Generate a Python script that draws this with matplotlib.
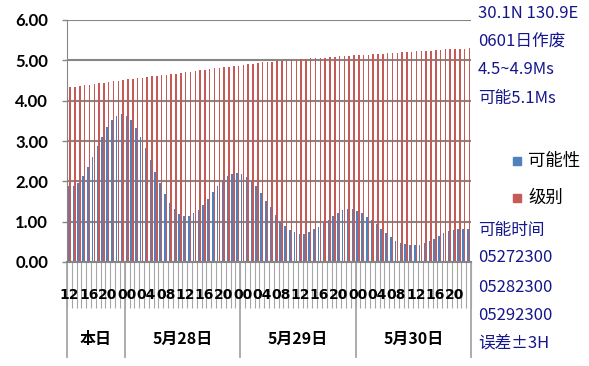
import numpy as np
import matplotlib.pyplot as plt
import matplotlib.transforms as mtransforms

# 可能性 (blue) and 级别 (red), one value per hour, 84 hours
possibility = [1.89, 1.89, 1.97, 2.13, 2.36, 2.60, 2.88, 3.11, 3.34, 3.51,
               3.62, 3.66, 3.62, 3.51, 3.32, 3.11, 2.82, 2.53, 2.24, 1.95,
               1.69, 1.46, 1.31, 1.19, 1.14, 1.14, 1.21, 1.29, 1.41, 1.57,
               1.73, 1.89, 2.03, 2.13, 2.18, 2.20, 2.17, 2.10, 2.02, 1.89,
               1.70, 1.52, 1.36, 1.17, 1.02, 0.89, 0.79, 0.74, 0.69, 0.69,
               0.74, 0.81, 0.86, 0.96, 1.04, 1.14, 1.22, 1.29, 1.31, 1.31,
               1.26, 1.21, 1.12, 1.04, 0.94, 0.81, 0.73, 0.63, 0.53, 0.48,
               0.45, 0.41, 0.41, 0.43, 0.48, 0.53, 0.58, 0.65, 0.71, 0.76,
               0.79, 0.81, 0.82, 0.82]
magnitude = [4.34, 4.35, 4.37, 4.38, 4.40, 4.41, 4.43, 4.44, 4.46, 4.48,
             4.50, 4.51, 4.53, 4.54, 4.56, 4.57, 4.59, 4.60, 4.62, 4.63,
             4.64, 4.66, 4.67, 4.69, 4.70, 4.72, 4.73, 4.75, 4.76, 4.78,
             4.80, 4.81, 4.83, 4.84, 4.86, 4.87, 4.89, 4.90, 4.92, 4.93,
             4.95, 4.96, 4.97, 4.98, 4.99, 5.00, 5.01, 5.02, 5.03, 5.04,
             5.05, 5.06, 5.07, 5.07, 5.08, 5.09, 5.10, 5.10, 5.11, 5.12,
             5.13, 5.13, 5.14, 5.15, 5.16, 5.16, 5.17, 5.18, 5.19, 5.20,
             5.21, 5.21, 5.22, 5.23, 5.24, 5.24, 5.25, 5.26, 5.27, 5.27,
             5.28, 5.29, 5.29, 5.30]

hour_labels = ['12', '16', '20', '00', '04', '08', '12', '16', '20', '00', '04',
               '08', '12', '16', '20', '00', '04', '08', '12', '16', '20']
label_step = 4
day_names = ['本日', '5月28日', '5月29日', '5月30日']
day_hours = [12, 24, 24, 24]

side_top = ['30.1N 130.9E', '0601日作废', '4.5~4.9Ms', '可能5.1Ms']
side_bottom = ['可能时间', '05272300', '05282300', '05292300', '误差±3H']
legend_names = ['可能性', '级别']

BLUE = '#4F81BD'
RED = '#C55A57'
NAVY = '#16168c'
GRID = '#868686'
W, H = 589, 366

fig = plt.figure(figsize=(W / 100, H / 100), dpi=100)
ax = fig.add_axes([67 / W, 104 / H, 404 / W, 242 / H])

x = np.arange(len(possibility))
ax.bar(x - 0.17, possibility, width=0.32, color=BLUE, zorder=2)
ax.bar(x + 0.17, magnitude, width=0.32, color=RED, zorder=2)

ax.set_xlim(-0.5, len(x) - 0.5)
ax.set_ylim(0, 6)
ax.set_yticks(np.arange(0, 7, 1))
ax.set_yticklabels(['%.2f' % v for v in range(7)], fontfamily='Lato',
                   fontweight='bold', fontsize=12)
ax.tick_params(axis='y', length=3.6, color=GRID, pad=10, width=1)
ax.yaxis.grid(True, color=GRID, lw=1.5)
ax.set_axisbelow(True)
for s in ['top', 'right']:
    ax.spines[s].set_visible(False)
ax.spines['left'].set_color(GRID)
ax.spines['bottom'].set_color(GRID)
ax.spines['bottom'].set_linewidth(1.5)

# hourly tick marks, long, below the axis
ax.set_xticks(np.arange(-0.5, len(x), 1))
ax.set_xticklabels([])
ax.tick_params(axis='x', length=33, color='#a6a6a6', width=0.8)

trans = mtransforms.blended_transform_factory(ax.transData, ax.transAxes)
for i, lab in enumerate(hour_labels):
    ax.text(i * label_step, (262 - 295) / 242, lab, transform=trans,
            ha='center', va='center', fontfamily='DejaVu Sans', fontweight='bold',
            fontsize=10, zorder=5)

# day groups
edges = np.concatenate([[0], np.cumsum(day_hours)]) - 0.5
for e in edges:
    ax.plot([e, e], [(262 - 262) / 242, (262 - 357) / 242], transform=trans,
            color='#a6a6a6', lw=1.3, clip_on=False)
for name, a, b in zip(day_names, edges[:-1], edges[1:]):
    ax.text((a + b) / 2, (262 - 339) / 242, name, transform=trans,
            ha='center', va='center', fontfamily=['Noto Sans CJK SC', 'DejaVu Sans'],
            fontweight='bold', fontsize=11.5)

# side notes
side_font = ['Noto Sans CJK SC', 'DejaVu Sans']
for txt, yp in zip(side_top, [13, 42, 70, 99]):
    fig.text(478 / W, 1 - yp / H, txt, color=NAVY, fontsize=12,
             fontfamily=side_font, ha='left', va='center')
for txt, yp in zip(side_bottom, [230, 258, 287, 315, 343]):
    fig.text(478 / W, 1 - yp / H, txt, color=NAVY, fontsize=12,
             fontfamily=side_font, ha='left', va='center')

# legend
for name, col, yp in zip(legend_names, [BLUE, RED], [161, 198]):
    fig.patches.append(plt.Rectangle((513 / W, 1 - (yp + 4) / H), 8 / W, 8 / H,
                                     color=col, transform=fig.transFigure,
                                     figure=fig))
    fig.text(528 / W, 1 - yp / H, name, color='black', fontsize=12.5,
             fontfamily=side_font, ha='left', va='center')

fig.savefig('out.png', dpi=100)
